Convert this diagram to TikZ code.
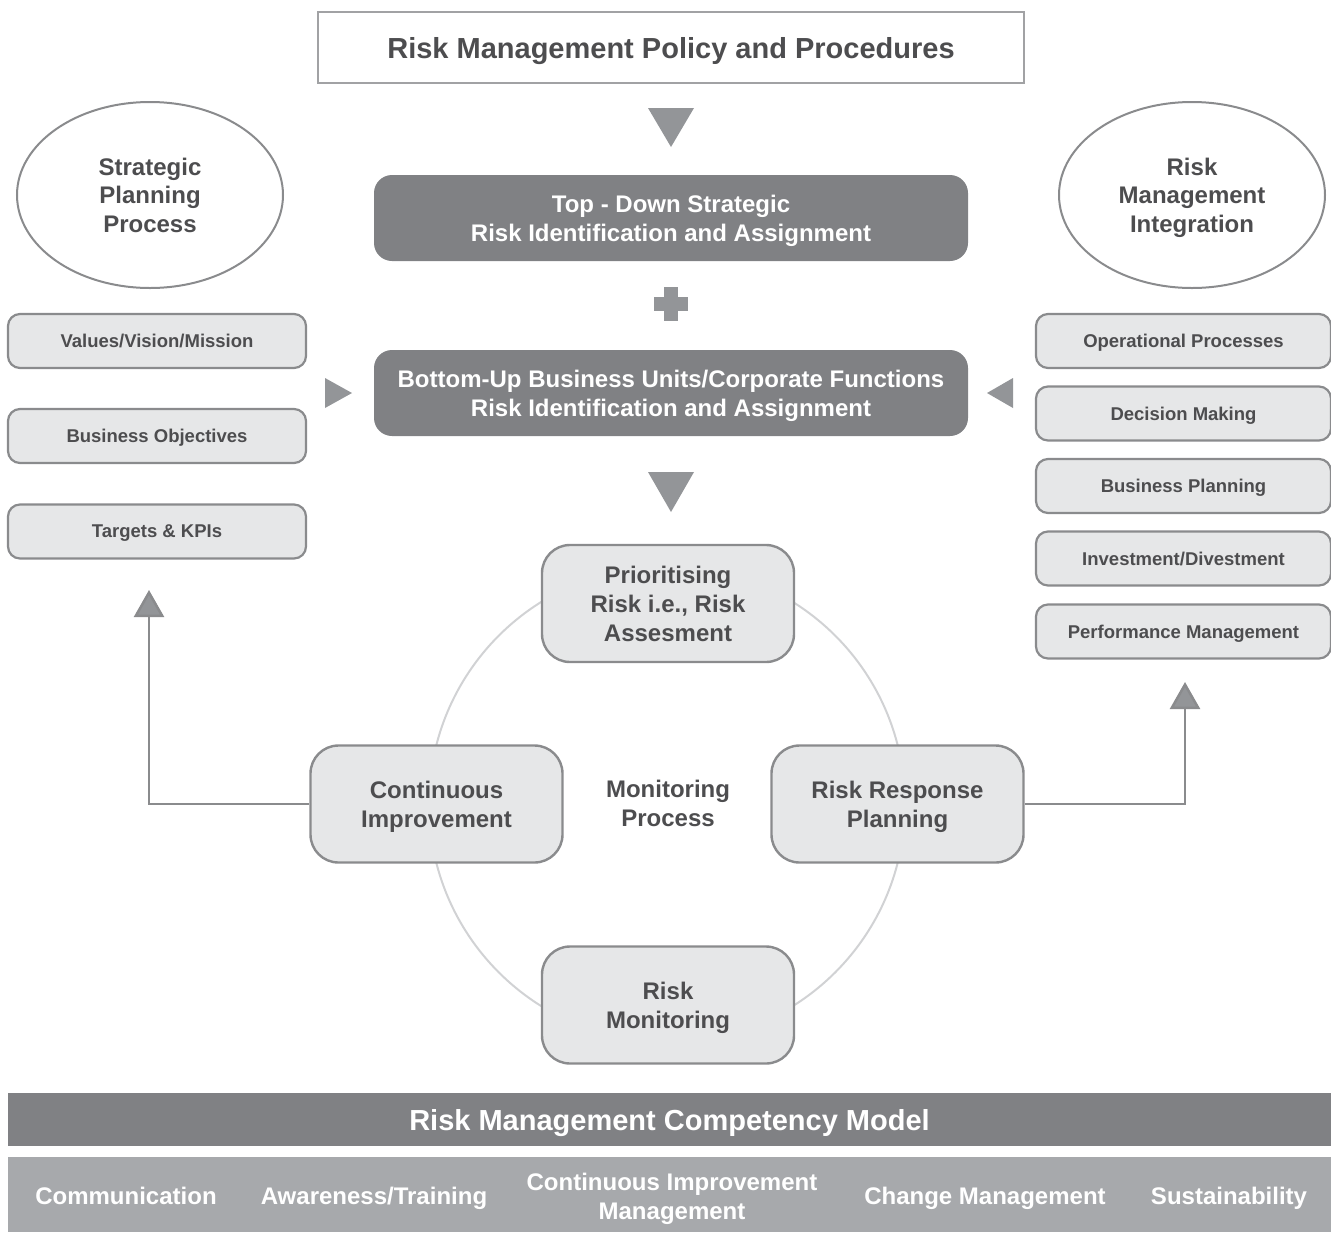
\documentclass[tikz,border=0pt]{standalone}
\usepackage{fontspec}
\setmainfont{Liberation Sans}
\usetikzlibrary{arrows.meta,shapes.geometric}
\definecolor{txt}{HTML}{4D4D4F}
\definecolor{boxfill}{HTML}{E6E7E8}
\definecolor{boxline}{HTML}{8A8B8D}
\definecolor{darkfill}{HTML}{808184}
\definecolor{midfill}{HTML}{A7A9AC}
\definecolor{ring}{HTML}{D1D2D4}
\definecolor{trifill}{HTML}{939598}
\begin{document}
\begin{tikzpicture}[x=1pt,y=-1pt,
  smallbox/.style={draw=boxline, line width=2.2pt, fill=boxfill, rounded corners=12pt,
    minimum width=298pt, minimum height=54pt, inner sep=0pt, text depth=0pt,
    font=\fontsize{18.5}{22}\selectfont\bfseries, text=txt},
  rightbox/.style={smallbox, minimum width=295pt},
  cyclebox/.style={draw=boxline, line width=2.4pt, fill=boxfill, rounded corners=28pt,
    minimum width=252pt, minimum height=117pt, inner sep=0pt, align=center, text depth=0pt,
    font=\fontsize{24}{29}\selectfont\bfseries, text=txt},
  darkbox/.style={fill=darkfill, rounded corners=18pt, minimum width=594pt, minimum height=86pt,
    inner sep=0pt, align=center, text depth=0pt, font=\fontsize{24}{29}\selectfont\bfseries, text=white},
  ovalnode/.style={ellipse, draw=boxline, line width=2pt, minimum width=266pt, minimum height=186pt,
    inner sep=0pt, align=center, text depth=0pt, font=\fontsize{24}{28.5}\selectfont\bfseries, text=txt},
  triangle/.style={fill=trifill},
  connector/.style={draw=boxline, line width=2.5pt, -{Triangle[width=30pt,length=27pt,fill=trifill]}},
  bartext/.style={font=\fontsize{24}{29}\selectfont\bfseries, text=white, align=center, inner sep=0pt, text depth=0pt}
]
\useasboundingbox (0,0) rectangle (1331,1232);

% top policy box
\node[draw=boxline!80, line width=2.5pt, fill=white, minimum width=706pt, minimum height=71pt, inner sep=0pt,
  text depth=0pt, font=\fontsize{29}{34}\selectfont\bfseries, text=txt] (policy) at (671,47.5) {Risk Management Policy and Procedures};

\fill[triangle] (648,108) -- (694,108) -- (671,147) -- cycle;

\node[darkbox] (topdown) at (671,218) {Top - Down Strategic\\Risk Identification and Assignment};

% plus sign
\fill[trifill] (654,297) rectangle (688,311);
\fill[trifill] (664,287) rectangle (678,321);

\node[darkbox] (bottomup) at (671,393) {Bottom-Up Business Units/Corporate Functions\\Risk Identification and Assignment};

\fill[triangle] (648,472) -- (694,472) -- (671,512) -- cycle;
\fill[triangle] (325,378) -- (352,393) -- (325,408) -- cycle;
\fill[triangle] (1013,378) -- (987,393) -- (1013,408) -- cycle;

% ellipses
\node[ovalnode] (spp) at (150,195) {Strategic\\Planning\\Process};
\node[ovalnode] (rmi) at (1192,195) {Risk\\Management\\Integration};

% left boxes
\node[smallbox] (vvm) at (157,341) {Values/Vision/Mission};
\node[smallbox] (bo) at (157,436) {Business Objectives};
\node[smallbox] (tk) at (157,531.5) {Targets \& KPIs};

% right boxes
\node[rightbox] (op) at (1183.5,341) {Operational Processes};
\node[rightbox] (dm) at (1183.5,413.5) {Decision Making};
\node[rightbox] (bp) at (1183.5,486) {Business Planning};
\node[rightbox] (id) at (1183.5,558.5) {Investment/Divestment};
\node[rightbox] (pm) at (1183.5,631.5) {Performance Management};

% cycle
\draw[ring, line width=2pt] (667,804) circle[radius=238];
\node[cyclebox] (pr) at (668,603.5) {Prioritising\\Risk i.e., Risk\\Assesment};
\node[cyclebox] (ci) at (436.5,804) {Continuous\\Improvement};
\node[cyclebox] (rr) at (897.5,804) {Risk Response\\Planning};
\node[cyclebox] (rm) at (668,1005) {Risk\\Monitoring};
\node[align=center, inner sep=0pt, text depth=0pt, font=\fontsize{24}{29}\selectfont\bfseries, text=txt] (mp) at (668,803) {Monitoring\\Process};

% connectors
\coordinate (lefttip) at (149,590);
\coordinate (righttip) at (1185,682);
\draw[connector] (ci.west) -| (lefttip);
\draw[connector] (rr.east) -| (righttip);

% bottom bars
\node[fill=darkfill, minimum width=1323pt, minimum height=53pt, inner sep=0pt, text depth=0pt,
  font=\fontsize{29}{34}\selectfont\bfseries, text=white] (rmcm) at (669.5,1119.5) {Risk Management Competency Model};
\node[fill=midfill, minimum width=1323pt, minimum height=75pt, inner sep=0pt] (bar) at (669.5,1194.5) {};
\node[bartext] (comm) at (126,1196) {Communication};
\node[bartext] (aware) at (374,1196) {Awareness/Training};
\node[bartext] (cim) at (672,1196) {Continuous Improvement\\Management};
\node[bartext] (chm) at (985,1196) {Change Management};
\node[bartext] (sus) at (1229,1196) {Sustainability};
\end{tikzpicture}
\end{document}
